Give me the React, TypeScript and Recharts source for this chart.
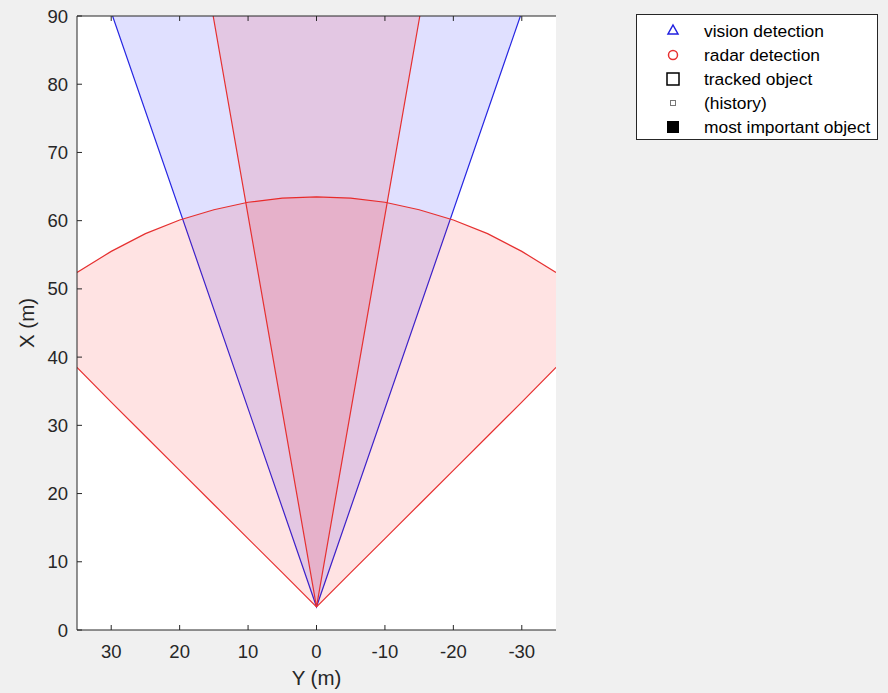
import React from 'react';
import { ComposedChart, Area, XAxis, YAxis, CartesianGrid, ReferenceLine } from 'recharts';

// lateral distance Y (m), read at the top edge (X = 90 m)
const sensorOrigin = 3.4;
const visionEdgeAtTop = 29.8;
const narrowRadarEdgeAtTop = 15.1;

// wide radar coverage: lateral positions with near edge and far arc (X, m)
const wideLateral = [35, 30, 25, 20, 15, 10, 5, 0, -5, -10, -15, -20, -25, -30, -35];
const wideNear = [38.5, 33.4, 28.4, 23.4, 18.4, 13.4, 8.4, 3.4, 8.4, 13.4, 18.4, 23.4, 28.4, 33.4, 38.5];
const wideFar = [52.4, 55.5, 58.1, 60.1, 61.6, 62.7, 63.3, 63.5, 63.3, 62.7, 61.6, 60.1, 58.1, 55.5, 52.4];

const xTicks = [30, 20, 10, 0, -10, -20, -30];
const yTicks = [0, 10, 20, 30, 40, 50, 60, 70, 80, 90];

const legendItems = [
  { label: 'vision detection', marker: 'triangle' },
  { label: 'radar detection', marker: 'circle' },
  { label: 'tracked object', marker: 'square' },
  { label: '(history)', marker: 'small' },
  { label: 'most important object', marker: 'filled' },
];

// coverage continues past the top of the plot, so the far side sits above X = 90
const beyondTop = 95;
const visionData = [
  { y: visionEdgeAtTop, range: [90, beyondTop] },
  { y: 0, range: [sensorOrigin, beyondTop] },
  { y: -visionEdgeAtTop, range: [90, beyondTop] },
];
const narrowRadarData = [
  { y: narrowRadarEdgeAtTop, range: [90, beyondTop] },
  { y: 0, range: [sensorOrigin, beyondTop] },
  { y: -narrowRadarEdgeAtTop, range: [90, beyondTop] },
];
const wideRadarData = wideLateral.map((y, i) => ({ y, range: [wideNear[i], wideFar[i]] }));

const FONT = '"Liberation Sans", Arial, Helvetica, sans-serif';
const AXIS = '#262626';

const Marker = ({ type }: { type: string }) => {
  switch (type) {
    case 'triangle':
      return <polygon points="10,4 15,13 5,13" fill="none" stroke="#2020e0" strokeWidth={1.5} />;
    case 'circle':
      return <circle cx={10} cy={10} r={4.5} fill="none" stroke="#e83030" strokeWidth={1.5} />;
    case 'square':
      return <rect x={4} y={4} width={12} height={12} fill="none" stroke="#000" strokeWidth={1.5} />;
    case 'small':
      return <rect x={7.5} y={7.5} width={5} height={5} fill="none" stroke="#777" strokeWidth={1} />;
    default:
      return <rect x={4} y={4} width={12} height={12} fill="#000" />;
  }
};

const App: React.FC = () => {
  return (
    <div
      style={{
        position: 'absolute',
        left: 0,
        top: 0,
        width: 888,
        height: 693,
        background: '#f0f0f0',
        fontFamily: FONT,
      }}
    >
      <ComposedChart width={888} height={693} margin={{ top: 16, right: 332, bottom: 0, left: 0 }}>
        <CartesianGrid fill="#ffffff" fillOpacity={1} horizontal={false} vertical={false} />
        <Area
          data={visionData}
          dataKey="range"
          type="linear"
          stroke="#2626e2"
          strokeWidth={1.2}
          fill="#0000ff"
          fillOpacity={0.12}
          dot={false}
          activeDot={false}
          isAnimationActive={false}
        />
        <Area
          data={wideRadarData}
          dataKey="range"
          type="linear"
          stroke="#e63030"
          strokeWidth={1.2}
          fill="#ff0000"
          fillOpacity={0.11}
          dot={false}
          activeDot={false}
          isAnimationActive={false}
        />
        <Area
          data={narrowRadarData}
          dataKey="range"
          type="linear"
          stroke="#e63030"
          strokeWidth={1.2}
          fill="#ff0000"
          fillOpacity={0.11}
          dot={false}
          activeDot={false}
          isAnimationActive={false}
        />
        <XAxis
          dataKey="y"
          type="number"
          domain={[-35, 35]}
          allowDataOverflow
          reversed
          ticks={xTicks}
          interval={0}
          height={63}
          tickSize={-5}
          tickMargin={20}
          stroke={AXIS}
          tick={{ fill: AXIS, fontSize: 18.5, fontFamily: FONT }}
          label={{ value: 'Y (m)', position: 'insideBottom', offset: 8, style: { fill: AXIS, fontSize: 20.5, fontFamily: FONT } }}
        />
        <XAxis
          xAxisId="top"
          orientation="top"
          type="number"
          domain={[-35, 35]}
          allowDataOverflow
          reversed
          ticks={xTicks}
          interval={0}
          height={0}
          tickSize={-5}
          tick={false}
          stroke={AXIS}
        />
        <YAxis
          type="number"
          domain={[0, 90]}
          allowDataOverflow
          ticks={yTicks}
          interval={0}
          width={77}
          tickSize={-5}
          tickMargin={14}
          stroke={AXIS}
          tick={{ fill: AXIS, fontSize: 18.5, fontFamily: FONT }}
          label={{
            value: 'X (m)',
            angle: -90,
            position: 'insideLeft',
            offset: 27,
            style: { textAnchor: 'middle', fill: AXIS, fontSize: 20.5, fontFamily: FONT },
          }}
        />
        <YAxis
          yAxisId="right"
          orientation="right"
          type="number"
          domain={[0, 90]}
          allowDataOverflow
          ticks={yTicks}
          interval={0}
          width={0}
          tickSize={-5}
          tick={false}
          stroke={AXIS}
        />
        {/* box edge along the top, drawn over the coverage fills */}
        <ReferenceLine y={90} stroke={AXIS} strokeWidth={1} ifOverflow="visible" />
        {xTicks.map((t) => (
          <ReferenceLine
            key={t}
            segment={[{ x: t, y: 90 }, { x: t, y: 89.27 }]}
            stroke={AXIS}
            strokeWidth={1}
            ifOverflow="visible"
          />
        ))}
      </ComposedChart>

      <div
        style={{
          position: 'absolute',
          left: 636,
          top: 14,
          width: 242,
          height: 126,
          boxSizing: 'border-box',
          border: `1px solid ${AXIS}`,
          background: '#ffffff',
        }}
      >
        {legendItems.map((item, i) => (
          <div
            key={item.label}
            style={{
              position: 'absolute',
              left: 0,
              top: 4 + i * 24,
              height: 24,
              display: 'flex',
              alignItems: 'center',
              whiteSpace: 'nowrap',
            }}
          >
            <svg width={20} height={20} style={{ marginLeft: 26 }}>
              <Marker type={item.marker} />
            </svg>
            <span style={{ marginLeft: 21, fontSize: 17.4, color: '#000', lineHeight: '24px' }}>{item.label}</span>
          </div>
        ))}
      </div>
    </div>
  );
};

export default App;
